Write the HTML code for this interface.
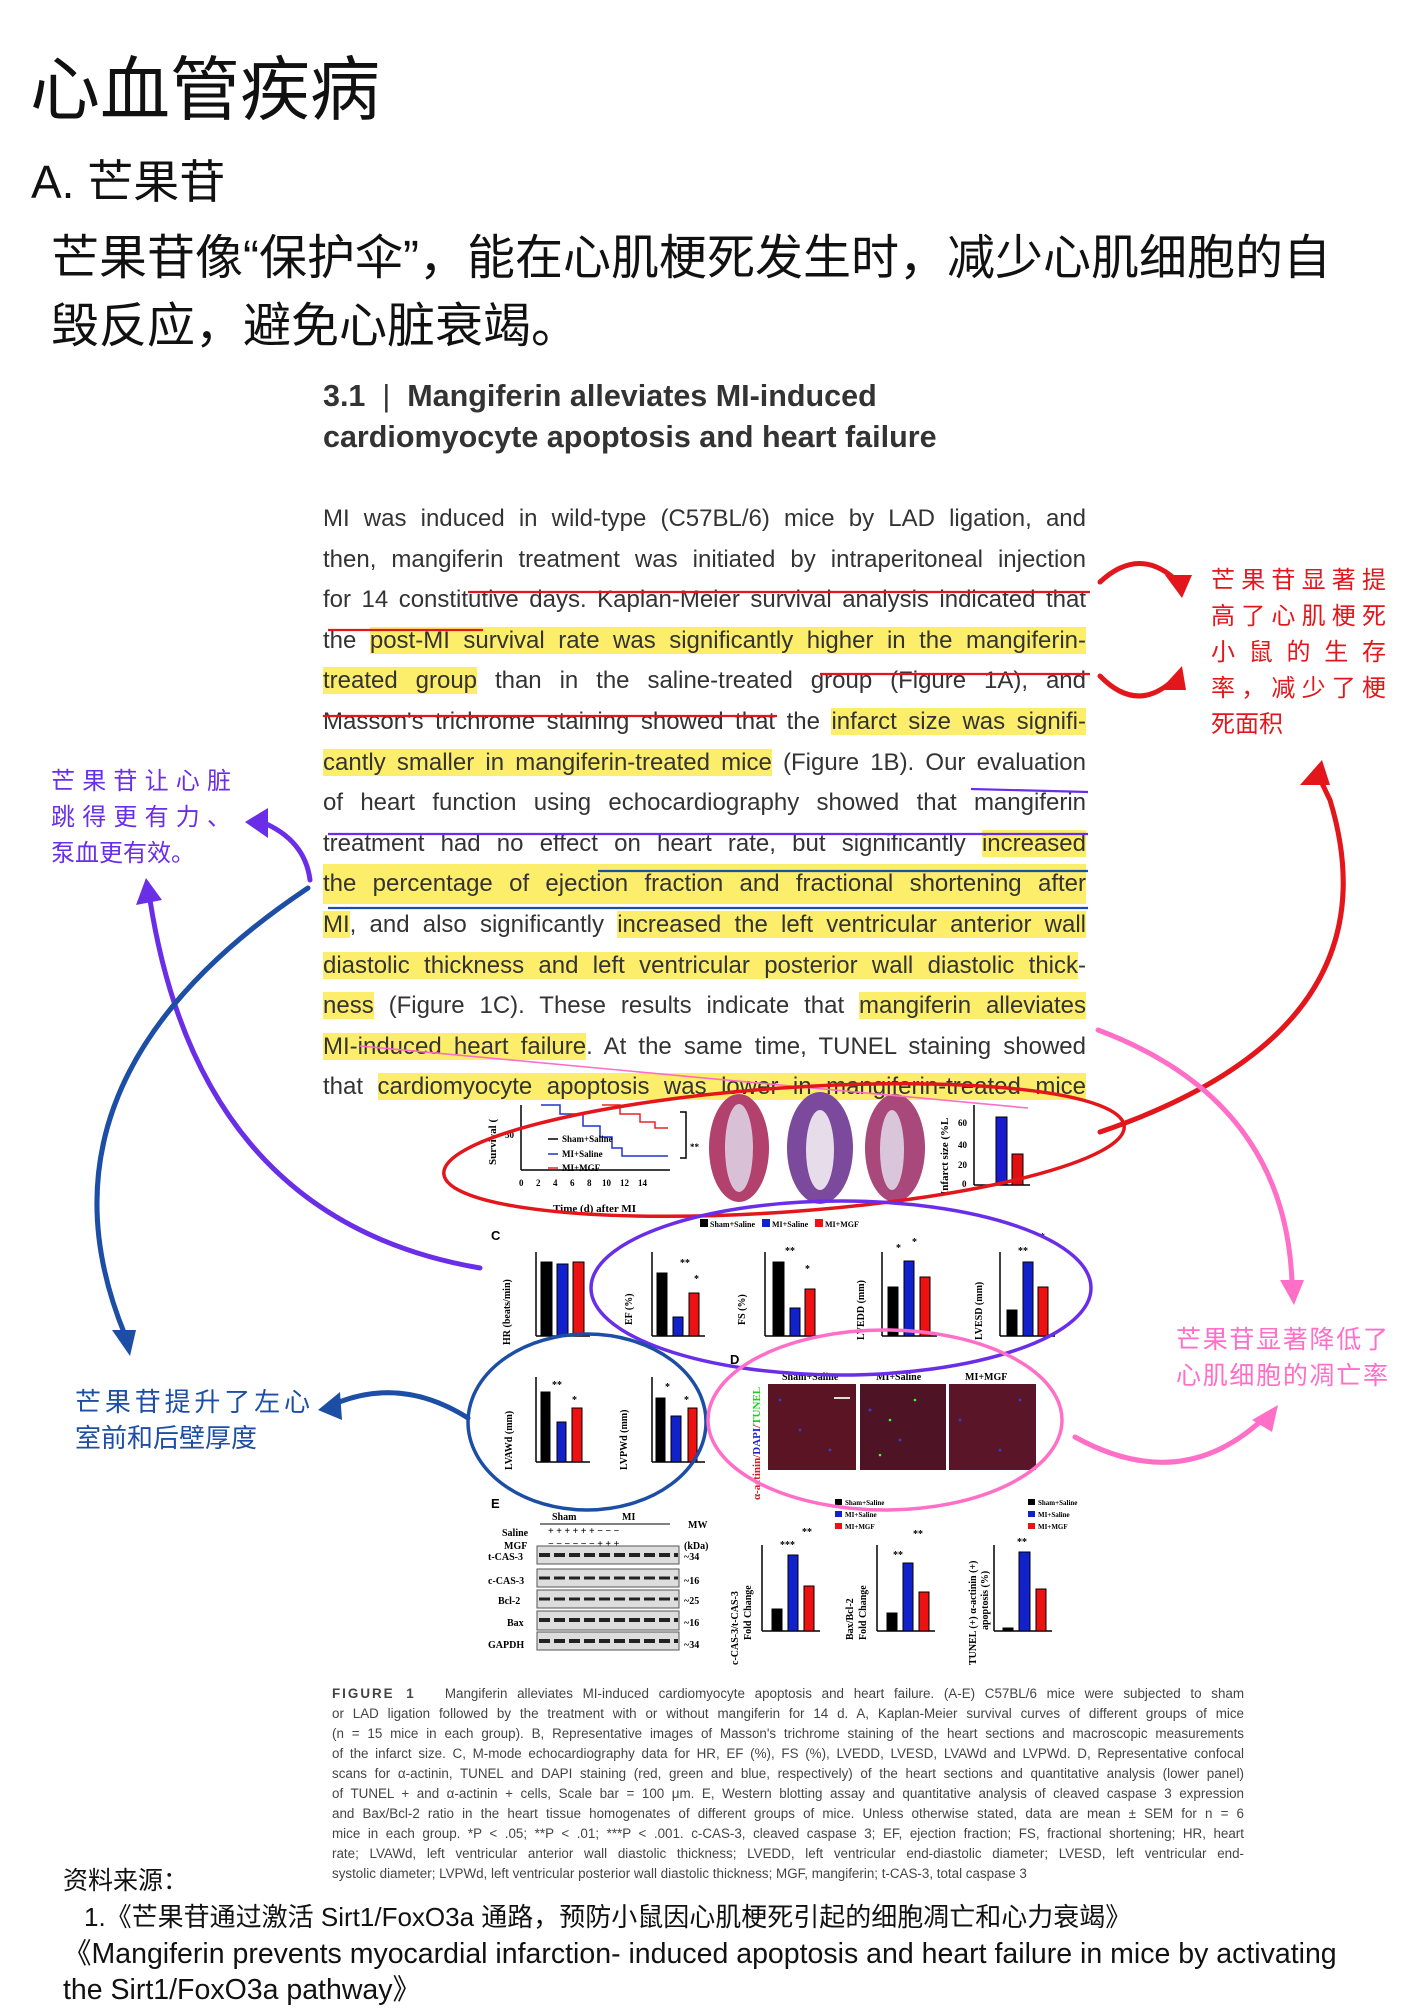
<!DOCTYPE html>
<html><head><meta charset="utf-8">
<style>
html,body{margin:0;padding:0;background:#fff;}
body{width:1414px;height:2000px;position:relative;overflow:hidden;font-family:"Liberation Sans","Noto Sans CJK SC",sans-serif;color:#222;}
.a{position:absolute;white-space:nowrap;}
.cn{font-family:"Liberation Sans","Noto Sans CJK SC",sans-serif;}
.bl{position:absolute;left:323px;width:763px;height:40px;line-height:40px;font-size:24px;color:#333;text-align:justify;text-align-last:justify;white-space:nowrap;}
.h{background:#fcee6a;}
.cap{position:absolute;left:332px;width:912px;font-size:13.4px;line-height:20px;color:#444;text-align:justify;text-align-last:justify;white-space:nowrap;}
.jl{text-align:justify;text-align-last:justify;}
</style></head><body>

<div class="a cn" style="left:30px;top:50px;font-size:70px;line-height:80px;color:#111;">心血管疾病</div>
<div class="a cn" style="left:31px;top:154px;font-size:46px;line-height:56px;color:#111;">A. 芒果苷</div>
<div class="a cn" style="left:51px;top:225px;font-size:48px;line-height:68px;color:#111;">芒果苷像“保护伞”，能在心肌梗死发生时，减少心肌细胞的自<br>毁反应，避免心脏衰竭。</div>

<div class="a" style="left:323px;top:376px;font-size:30.5px;line-height:41px;font-weight:bold;color:#333;">3.1 &nbsp;<span style="font-weight:normal">|</span>&nbsp; Mangiferin alleviates MI-induced<br>cardiomyocyte apoptosis and heart failure</div>

<div class="bl" style="top:499px">MI was induced in wild-type (C57BL/6) mice by LAD ligation, and</div>
<div class="bl" style="top:540px">then, mangiferin treatment was initiated by intraperitoneal injection</div>
<div class="bl" style="top:580px">for 14 constitutive days. Kaplan-Meier survival analysis indicated that</div>
<div class="bl" style="top:621px">the <span class="h">post-MI survival rate was significantly higher in the mangiferin-</span></div>
<div class="bl" style="top:661px"><span class="h">treated group</span> than in the saline-treated group (Figure 1A), and</div>
<div class="bl" style="top:702px">Masson's trichrome staining showed that the <span class="h">infarct size was signifi-</span></div>
<div class="bl" style="top:743px"><span class="h">cantly smaller in mangiferin-treated mice</span> (Figure 1B). Our evaluation</div>
<div class="bl" style="top:783px">of heart function using echocardiography showed that mangiferin</div>
<div class="bl" style="top:824px">treatment had no effect on heart rate, but significantly <span class="h">increased</span></div>
<div class="bl h" style="top:864px">the percentage of ejection fraction and fractional shortening after</div>
<div class="bl" style="top:905px"><span class="h">MI</span>, and also significantly <span class="h">increased the left ventricular anterior wall</span></div>
<div class="bl" style="top:946px"><span class="h">diastolic thickness and left ventricular posterior wall diastolic thick</span>-</div>
<div class="bl" style="top:986px"><span class="h">ness</span> (Figure 1C). These results indicate that <span class="h">mangiferin alleviates</span></div>
<div class="bl" style="top:1027px"><span class="h">MI-induced heart failure</span>. At the same time, TUNEL staining showed</div>
<div class="bl" style="top:1067px">that <span class="h">cardiomyocyte apoptosis was lower in mangiferin-treated mice</span></div>

<!-- Figure -->
<svg class="a" style="left:0;top:0" width="1414" height="2000" viewBox="0 0 1414 2000" font-family="Liberation Serif" font-weight="bold">
 <g stroke="#000" stroke-width="1.5" fill="none">
  <line x1="521" y1="1105" x2="521" y2="1170"/><line x1="521" y1="1170" x2="670" y2="1170"/>
  <polyline stroke="#2233cc" points="541,1105 560,1105 560,1114 583,1114 583,1126 600,1126 600,1137 612,1137 612,1148 622,1148 622,1156 668,1156"/>
  <polyline stroke="#e22" points="602,1105 620,1105 620,1114 640,1114 640,1122 655,1122 655,1128 668,1128"/>
  <polyline points="680,1112 686,1112 686,1158 680,1158"/>
  <line x1="548" y1="1139" x2="558" y2="1139"/><line x1="548" y1="1154" x2="558" y2="1154" stroke="#2233cc"/><line x1="548" y1="1168" x2="558" y2="1168" stroke="#e22"/>
 </g>
 <g font-size="9" fill="#000">
  <text x="562" y="1142">Sham+Saline</text><text x="562" y="1157">MI+Saline</text><text x="562" y="1171">MI+MGF</text>
  <text x="690" y="1150">**</text>
  <text x="505" y="1138">50</text>
  <text x="519" y="1186">0</text><text x="536" y="1186">2</text><text x="553" y="1186">4</text><text x="570" y="1186">6</text><text x="587" y="1186">8</text><text x="602" y="1186">10</text><text x="620" y="1186">12</text><text x="638" y="1186">14</text>
  <text x="553" y="1212" font-size="11">Time (d) after MI</text>
  <text transform="translate(496,1165) rotate(-90)" font-size="11">Survival (</text>
  <text transform="translate(948,1195) rotate(-90)" font-size="11">Infarct size (%L</text>
  <text x="958" y="1126">60</text><text x="958" y="1148">40</text><text x="958" y="1168">20</text><text x="962" y="1187">0</text>
 </g>
 <ellipse cx="739" cy="1148" rx="30" ry="54" fill="#b2416d"/><ellipse cx="739" cy="1148" rx="14" ry="44" fill="#d8c0d6"/>
 <ellipse cx="820" cy="1148" rx="33" ry="56" fill="#7b4a9c"/><ellipse cx="820" cy="1150" rx="14" ry="40" fill="#e6dcea"/>
 <ellipse cx="895" cy="1148" rx="30" ry="54" fill="#a9487a"/><ellipse cx="892" cy="1150" rx="12" ry="40" fill="#d9c6da"/>
 <g stroke="#000" stroke-width="1.5"><line x1="974" y1="1105" x2="974" y2="1185"/><line x1="974" y1="1185" x2="1030" y2="1185"/></g>
 <rect x="996" y="1117" width="11" height="68" fill="#1a1ad0" stroke="#000"/>
 <rect x="1012" y="1154" width="11" height="31" fill="#e01010" stroke="#000"/>

 <rect x="700" y="1219" width="8" height="8" fill="#000"/><text x="710" y="1227" font-size="8">Sham+Saline</text>
 <rect x="762" y="1219" width="8" height="8" fill="#12c"/><text x="772" y="1227" font-size="8">MI+Saline</text>
 <rect x="815" y="1219" width="8" height="8" fill="#e11"/><text x="825" y="1227" font-size="8">MI+MGF</text>
 <text x="491" y="1240" font-size="13" font-family="Liberation Sans">C</text>

 <g stroke="#000" stroke-width="1.5">
  <line x1="536" y1="1252" x2="536" y2="1336"/><line x1="536" y1="1336" x2="590" y2="1336"/>
  <line x1="652" y1="1252" x2="652" y2="1336"/><line x1="652" y1="1336" x2="705" y2="1336"/>
  <line x1="765" y1="1252" x2="765" y2="1336"/><line x1="765" y1="1336" x2="820" y2="1336"/>
  <line x1="882" y1="1252" x2="882" y2="1336"/><line x1="882" y1="1336" x2="937" y2="1336"/>
  <line x1="1000" y1="1252" x2="1000" y2="1336"/><line x1="1000" y1="1336" x2="1055" y2="1336"/>
  <line x1="536" y1="1377" x2="536" y2="1462"/><line x1="536" y1="1462" x2="590" y2="1462"/>
  <line x1="652" y1="1377" x2="652" y2="1462"/><line x1="652" y1="1462" x2="705" y2="1462"/>
  <line x1="762" y1="1545" x2="762" y2="1631"/><line x1="762" y1="1631" x2="820" y2="1631"/>
  <line x1="877" y1="1545" x2="877" y2="1631"/><line x1="877" y1="1631" x2="935" y2="1631"/>
  <line x1="994" y1="1545" x2="994" y2="1631"/><line x1="994" y1="1631" x2="1052" y2="1631"/>
 </g>
 <g stroke="#000" stroke-width="1">
  <rect x="541" y="1262" width="11" height="74" fill="#000"/><rect x="557" y="1264" width="11" height="72" fill="#12c"/><rect x="573" y="1262" width="11" height="74" fill="#e11"/>
  <rect x="657" y="1273" width="10" height="63" fill="#000"/><rect x="673" y="1317" width="10" height="19" fill="#12c"/><rect x="689" y="1293" width="10" height="43" fill="#e11"/>
  <rect x="773" y="1262" width="11" height="74" fill="#000"/><rect x="790" y="1308" width="10" height="28" fill="#12c"/><rect x="805" y="1289" width="10" height="47" fill="#e11"/>
  <rect x="888" y="1287" width="10" height="49" fill="#000"/><rect x="904" y="1261" width="10" height="75" fill="#12c"/><rect x="920" y="1277" width="10" height="59" fill="#e11"/>
  <rect x="1007" y="1310" width="10" height="26" fill="#000"/><rect x="1023" y="1262" width="10" height="74" fill="#12c"/><rect x="1038" y="1287" width="10" height="49" fill="#e11"/>
  <rect x="541" y="1392" width="9" height="70" fill="#000"/><rect x="557" y="1422" width="9" height="40" fill="#12c"/><rect x="572" y="1408" width="10" height="54" fill="#e11"/>
  <rect x="656" y="1398" width="9" height="64" fill="#000"/><rect x="671" y="1416" width="10" height="46" fill="#12c"/><rect x="688" y="1408" width="9" height="54" fill="#e11"/>
  <rect x="772" y="1609" width="10" height="22" fill="#000"/><rect x="788" y="1555" width="10" height="76" fill="#12c"/><rect x="804" y="1586" width="10" height="45" fill="#e11"/>
  <rect x="887" y="1613" width="10" height="18" fill="#000"/><rect x="903" y="1563" width="10" height="68" fill="#12c"/><rect x="919" y="1592" width="10" height="39" fill="#e11"/>
  <rect x="1003" y="1628" width="10" height="3" fill="#000"/><rect x="1019" y="1552" width="11" height="79" fill="#12c"/><rect x="1036" y="1589" width="10" height="42" fill="#e11"/>
 </g>
 <g font-size="10" fill="#000">
  <text transform="translate(510,1345) rotate(-90)">HR (beats/min)</text>
  <text transform="translate(632,1325) rotate(-90)">EF (%)</text>
  <text transform="translate(745,1325) rotate(-90)">FS (%)</text>
  <text transform="translate(864,1340) rotate(-90)">LVEDD (mm)</text>
  <text transform="translate(982,1340) rotate(-90)">LVESD (mm)</text>
  <text transform="translate(512,1470) rotate(-90)">LVAWd (mm)</text>
  <text transform="translate(627,1470) rotate(-90)">LVPWd (mm)</text>
  <text transform="translate(738,1665) rotate(-90)">c-CAS-3/t-CAS-3</text><text transform="translate(751,1640) rotate(-90)">Fold Change</text>
  <text transform="translate(853,1640) rotate(-90)">Bax/Bcl-2</text><text transform="translate(866,1640) rotate(-90)">Fold Change</text>
  <text transform="translate(976,1665) rotate(-90)">TUNEL (+) α-actinin (+)</text><text transform="translate(988,1630) rotate(-90)">apoptosis (%)</text>
  <text x="680" y="1266">**</text><text x="694" y="1282">*</text>
  <text x="785" y="1254">**</text><text x="805" y="1272">*</text>
  <text x="896" y="1251">*</text><text x="912" y="1245">*</text>
  <text x="1018" y="1254">**</text><text x="1040" y="1240">*</text>
  <text x="552" y="1388">**</text><text x="572" y="1403">*</text>
  <text x="665" y="1390">*</text><text x="684" y="1403">*</text>
  <text x="780" y="1548">***</text><text x="802" y="1535">**</text>
  <text x="893" y="1558">**</text><text x="913" y="1537">**</text>
  <text x="1017" y="1545">**</text>
 </g>

 <text x="730" y="1364" font-size="13" font-family="Liberation Sans">D</text>
 <g font-size="10"><text x="782" y="1380">Sham+Saline</text><text x="876" y="1380">MI+Saline</text><text x="965" y="1380">MI+MGF</text></g>
 <text transform="translate(760,1500) rotate(-90)" font-size="11" fill="#c22">α-actinin/<tspan fill="#22c">DAPI</tspan>/<tspan fill="#2c2">TUNEL</tspan></text>
 <rect x="768" y="1384" width="88" height="86" fill="#5a1424"/>
 <rect x="860" y="1384" width="86" height="86" fill="#4e1426"/>
 <rect x="949" y="1384" width="87" height="86" fill="#5a1628"/>
 <line x1="834" y1="1398" x2="850" y2="1398" stroke="#ddd" stroke-width="2"/>
 <g fill="#3b3bb8"><circle cx="780" cy="1400" r="1.5"/><circle cx="800" cy="1430" r="1.5"/><circle cx="830" cy="1450" r="1.5"/><circle cx="870" cy="1410" r="1.5"/><circle cx="900" cy="1440" r="1.5"/><circle cx="960" cy="1420" r="1.5"/><circle cx="1000" cy="1450" r="1.5"/><circle cx="1020" cy="1400" r="1.5"/></g>
 <g fill="#3f3"><circle cx="890" cy="1420" r="1.3"/><circle cx="915" cy="1400" r="1.3"/><circle cx="880" cy="1455" r="1.3"/></g>
 <g font-size="7"><rect x="835" y="1499" width="7" height="6" fill="#000"/><text x="845" y="1505">Sham+Saline</text>
 <rect x="835" y="1511" width="7" height="6" fill="#12c"/><text x="845" y="1517">MI+Saline</text>
 <rect x="835" y="1523" width="7" height="6" fill="#e11"/><text x="845" y="1529">MI+MGF</text>
 <rect x="1028" y="1499" width="7" height="6" fill="#000"/><text x="1038" y="1505">Sham+Saline</text>
 <rect x="1028" y="1511" width="7" height="6" fill="#12c"/><text x="1038" y="1517">MI+Saline</text>
 <rect x="1028" y="1523" width="7" height="6" fill="#e11"/><text x="1038" y="1529">MI+MGF</text></g>

 <text x="491" y="1508" font-size="13" font-family="Liberation Sans">E</text>
 <g font-size="10"><text x="552" y="1520">Sham</text><text x="622" y="1520">MI</text>
 <line x1="540" y1="1524" x2="670" y2="1524" stroke="#000"/>
 <text x="502" y="1536">Saline</text><text x="548" y="1534">+ + + + + + − − −</text><text x="688" y="1528">MW</text>
 <text x="504" y="1549">MGF</text><text x="548" y="1547">− − − − − − + + +</text><text x="684" y="1549">(kDa)</text>
 <text x="488" y="1560">t-CAS-3</text><text x="488" y="1584">c-CAS-3</text><text x="498" y="1604">Bcl-2</text><text x="507" y="1626">Bax</text><text x="488" y="1648">GAPDH</text>
 <text x="684" y="1560">~34</text><text x="684" y="1584">~16</text><text x="684" y="1604">~25</text><text x="684" y="1626">~16</text><text x="684" y="1648">~34</text></g>
 <g fill="#ddd" stroke="#555"><rect x="537" y="1546" width="142" height="18"/><rect x="537" y="1569" width="142" height="18"/><rect x="537" y="1590" width="142" height="18"/><rect x="537" y="1611" width="142" height="19"/><rect x="537" y="1632" width="142" height="18"/></g>
 <g stroke="#222" stroke-width="4" stroke-dasharray="11,4"><line x1="539" y1="1555" x2="678" y2="1555"/><line x1="539" y1="1578" x2="678" y2="1578" stroke-width="3"/><line x1="539" y1="1599" x2="678" y2="1599" stroke-width="3"/><line x1="539" y1="1620" x2="678" y2="1620"/><line x1="539" y1="1641" x2="678" y2="1641"/></g>

 <g fill="none" stroke-width="2.2">
  <line x1="468" y1="592" x2="1090" y2="592" stroke="#e3161b"/>
  <line x1="328" y1="630" x2="483" y2="630" stroke="#e3161b"/>
  <line x1="820" y1="674" x2="1090" y2="674" stroke="#e3161b"/>
  <line x1="323" y1="716" x2="777" y2="716" stroke="#e3161b"/>
  <line x1="971" y1="789" x2="1088" y2="792" stroke="#6a2ee8"/>
  <line x1="328" y1="834" x2="1088" y2="834" stroke="#6a2ee8"/>
  <line x1="598" y1="871" x2="1088" y2="871" stroke="#1c4ea6"/>
  <line x1="328" y1="908" x2="1088" y2="908" stroke="#1c4ea6"/>
  <line x1="360" y1="1046" x2="1028" y2="1108" stroke="#ff6ec7" stroke-width="1.6"/>
 </g>
 <g fill="none" stroke-width="3.5">
  <ellipse cx="784" cy="1150" rx="341" ry="62" transform="rotate(-4 784 1150)" stroke="#e3161b"/>
  <ellipse cx="841" cy="1288" rx="250" ry="87" stroke="#6a2ee8"/>
  <ellipse cx="587" cy="1422" rx="119" ry="88" stroke="#1c4ea6"/>
  <ellipse cx="885" cy="1420" rx="177" ry="90" stroke="#ff6ec7"/>
 </g>
 <g fill="none" stroke-width="5" stroke-linecap="round">
  <path d="M1100,582 Q1140,545 1178,582" stroke="#e3161b"/>
  <path d="M1100,676 Q1135,712 1170,683" stroke="#e3161b"/>
  <path d="M1100,1132 Q1400,1030 1330,800 L1318,775" stroke="#e3161b"/>
  <path d="M310,880 Q305,840 262,822" stroke="#6a2ee8"/>
  <path d="M480,1268 Q200,1220 150,900" stroke="#6a2ee8"/>
  <path d="M308,888 Q20,1080 125,1335" stroke="#1c4ea6"/>
  <path d="M468,1418 Q400,1375 332,1405" stroke="#1c4ea6"/>
  <path d="M1098,1030 Q1285,1100 1292,1282" stroke="#ff6ec7"/>
  <path d="M1075,1437 Q1180,1495 1262,1420" stroke="#ff6ec7"/>
 </g>
 <g stroke="none">
  <polygon points="1165,575 1192,575 1182,598" fill="#e3161b"/>
  <polygon points="1160,690 1186,690 1182,666" fill="#e3161b"/>
  <polygon points="1300,785 1322,760 1330,785" fill="#e3161b"/>
  <polygon points="245,822 268,808 268,838" fill="#6a2ee8"/>
  <polygon points="136,905 146,878 162,900" fill="#6a2ee8"/>
  <polygon points="112,1330 136,1330 130,1356" fill="#1c4ea6"/>
  <polygon points="318,1410 340,1392 342,1420" fill="#1c4ea6"/>
  <polygon points="1280,1280 1304,1280 1294,1305" fill="#ff6ec7"/>
  <polygon points="1252,1420 1278,1405 1272,1432" fill="#ff6ec7"/>
 </g>
</svg>

<div class="a cn" style="left:1211px;top:563px;width:175px;font-size:24px;line-height:36px;color:#e3161b;">
<div class="jl">芒果苷显著提</div><div class="jl">高了心肌梗死</div><div class="jl">小鼠的生存</div><div class="jl">率，减少了梗</div><div>死面积</div></div>
<div class="a cn" style="left:51px;top:764px;width:180px;font-size:24px;line-height:36px;color:#6a2ee8;">
<div class="jl">芒果苷让心脏</div><div class="jl">跳得更有力、</div><div>泵血更有效。</div></div>
<div class="a cn" style="left:75px;top:1384px;width:235px;font-size:26px;line-height:36px;color:#1c4ea6;">
<div class="jl">芒果苷提升了左心</div><div>室前和后壁厚度</div></div>
<div class="a cn" style="left:1176px;top:1322px;width:212px;font-size:25px;line-height:36px;color:#ff6ec7;">
<div class="jl">芒果苷显著降低了</div><div class="jl">心肌细胞的凋亡率</div></div>

<div class="cap" style="top:1684px"><span style="letter-spacing:2px;font-weight:bold">FIGURE 1</span>&nbsp;&nbsp;&nbsp;Mangiferin alleviates MI-induced cardiomyocyte apoptosis and heart failure. (A-E) C57BL/6 mice were subjected to sham</div>
<div class="cap" style="top:1704px">or LAD ligation followed by the treatment with or without mangiferin for 14 d. A, Kaplan-Meier survival curves of different groups of mice</div>
<div class="cap" style="top:1724px">(n = 15 mice in each group). B, Representative images of Masson's trichrome staining of the heart sections and macroscopic measurements</div>
<div class="cap" style="top:1744px">of the infarct size. C, M-mode echocardiography data for HR, EF (%), FS (%), LVEDD, LVESD, LVAWd and LVPWd. D, Representative confocal</div>
<div class="cap" style="top:1764px">scans for α-actinin, TUNEL and DAPI staining (red, green and blue, respectively) of the heart sections and quantitative analysis (lower panel)</div>
<div class="cap" style="top:1784px">of TUNEL + and α-actinin + cells, Scale bar = 100 μm. E, Western blotting assay and quantitative analysis of cleaved caspase 3 expression</div>
<div class="cap" style="top:1804px">and Bax/Bcl-2 ratio in the heart tissue homogenates of different groups of mice. Unless otherwise stated, data are mean ± SEM for n = 6</div>
<div class="cap" style="top:1824px">mice in each group. *P &lt; .05; **P &lt; .01; ***P &lt; .001. c-CAS-3, cleaved caspase 3; EF, ejection fraction; FS, fractional shortening; HR, heart</div>
<div class="cap" style="top:1844px">rate; LVAWd, left ventricular anterior wall diastolic thickness; LVEDD, left ventricular end-diastolic diameter; LVESD, left ventricular end-</div>
<div class="cap" style="top:1864px;width:780px;text-align-last:left">systolic diameter; LVPWd, left ventricular posterior wall diastolic thickness; MGF, mangiferin; t-CAS-3, total caspase 3</div>

<div class="a cn" style="left:63px;top:1864px;font-size:25px;line-height:34px;color:#111;">资料来源：</div>
<div class="a cn" style="left:84px;top:1900px;font-size:26px;line-height:34px;color:#111;">1.《芒果苷通过激活 Sirt1/FoxO3a 通路，预防小鼠因心肌梗死引起的细胞凋亡和心力衰竭》</div>
<div class="a cn" style="left:63px;top:1936px;font-size:28.5px;line-height:36px;color:#111;">《Mangiferin prevents myocardial infarction- induced apoptosis and heart failure in mice by activating</div>
<div class="a cn" style="left:63px;top:1972px;font-size:28.5px;line-height:36px;color:#111;">the Sirt1/FoxO3a pathway》</div>
</body></html>
